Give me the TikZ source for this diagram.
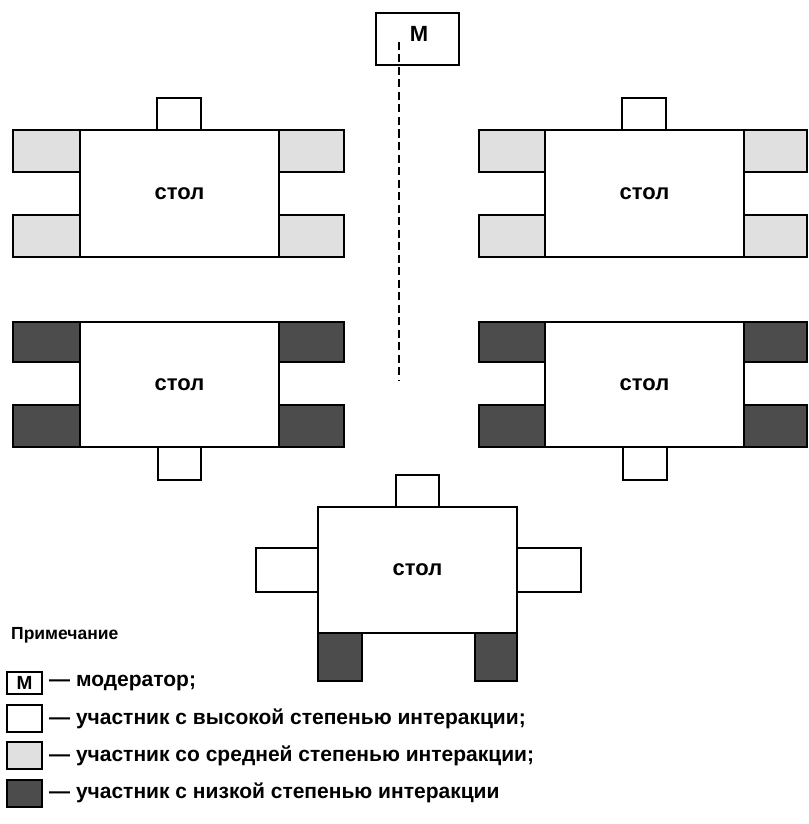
\documentclass[tikz,border=0pt]{standalone}
\usepackage{fontspec}
\setmainfont{Liberation Sans}
% a rectangle node given by its corners: name, style, x1, y1, x2, y2, text
\newcommand\placebox[7]{%
  \node[#2, minimum width={(#5)-(#3)}, minimum height={(#6)-(#4)}]
    (#1) at ({((#3)+(#5))/2},{((#4)+(#6))/2}) {#7};}
\begin{document}
\begin{tikzpicture}[x=1pt,y=-1pt,
  piece/.style={draw=black, line width=2.6pt, inner sep=0pt, outer sep=0pt,
    font=\bfseries\fontsize{22}{24}\selectfont},
  tablebox/.style={piece, fill=white},
  hiseat/.style={piece, fill=white},
  midseat/.style={piece, fill=gray!24},
  lowseat/.style={piece, fill=black!70},
  modbox/.style={piece, fill=white},
  label/.style={font=\bfseries\fontsize{22}{24}\selectfont, inner sep=0pt},
  legendtext/.style={anchor=west, inner sep=0pt, font=\bfseries\fontsize{21}{24}\selectfont},
  track/.style={draw=black, line width=2.6pt, dash pattern=on 8pt off 4.5pt}]
\useasboundingbox (0,0) rectangle (808,824);

% moderator and the aisle line
\placebox{mod}{modbox}{376}{13}{459}{65}{}
\node[label] (modlabel) at (419,34) {М};
\coordinate (aislestart) at (399,42);
\coordinate (aisleend) at (399,380);
\draw[track] (aislestart) -- (aisleend);

% table 1 (top left)
\placebox{t1n}{hiseat}{157}{98}{201}{130}{}
\placebox{t1a}{midseat}{13}{130}{80}{172}{}
\placebox{t1b}{midseat}{13}{215}{80}{257}{}
\placebox{t1c}{midseat}{279}{130}{344}{172}{}
\placebox{t1d}{midseat}{279}{215}{344}{257}{}
\placebox{t1}{tablebox}{80}{130}{279}{257}{стол}

% table 2 (top right)
\placebox{t2n}{hiseat}{622}{98}{666}{130}{}
\placebox{t2a}{midseat}{479}{130}{545}{172}{}
\placebox{t2b}{midseat}{479}{215}{545}{257}{}
\placebox{t2c}{midseat}{744}{130}{807}{172}{}
\placebox{t2d}{midseat}{744}{215}{807}{257}{}
\placebox{t2}{tablebox}{545}{130}{744}{257}{стол}

% table 3 (middle left)
\placebox{t3s}{hiseat}{158}{447}{201}{480}{}
\placebox{t3a}{lowseat}{13}{322}{80}{362}{}
\placebox{t3b}{lowseat}{13}{405}{80}{447}{}
\placebox{t3c}{lowseat}{279}{322}{344}{362}{}
\placebox{t3d}{lowseat}{279}{405}{344}{447}{}
\placebox{t3}{tablebox}{80}{322}{279}{447}{стол}

% table 4 (middle right)
\placebox{t4s}{hiseat}{623}{447}{667}{480}{}
\placebox{t4a}{lowseat}{479}{322}{545}{362}{}
\placebox{t4b}{lowseat}{479}{405}{545}{447}{}
\placebox{t4c}{lowseat}{744}{322}{807}{362}{}
\placebox{t4d}{lowseat}{744}{405}{807}{447}{}
\placebox{t4}{tablebox}{545}{322}{744}{447}{стол}

% table 5 (bottom)
\placebox{t5n}{hiseat}{396}{475}{439}{507}{}
\placebox{t5w}{hiseat}{256}{548}{318}{592}{}
\placebox{t5e}{hiseat}{517}{548}{581}{592}{}
\placebox{t5a}{lowseat}{318}{633}{362}{681}{}
\placebox{t5b}{lowseat}{475}{633}{517}{681}{}
\placebox{t5}{tablebox}{318}{507}{517}{633}{стол}

% key
\node[anchor=west, inner sep=0pt, font=\bfseries\fontsize{17.5}{19}\selectfont] (note) at (11,635) {Примечание};
\placebox{k1}{modbox}{7}{672}{42}{694}{}
\node[label, font=\bfseries\fontsize{19}{21}\selectfont] (k1label) at (k1.center) {М};
\placebox{k2}{hiseat}{7}{705}{42}{732}{}
\placebox{k3}{midseat}{7}{742}{42}{769}{}
\placebox{k4}{lowseat}{7}{780}{42}{807}{}
\node[legendtext] (k1text) at (49,683) {— модератор;};
\node[legendtext] (k2text) at (49,719) {— участник с высокой степенью интеракции;};
\node[legendtext] (k3text) at (49,756) {— участник со средней степенью интеракции;};
\node[legendtext] (k4text) at (49,793) {— участник с низкой степенью интеракции};
\end{tikzpicture}
\end{document}
